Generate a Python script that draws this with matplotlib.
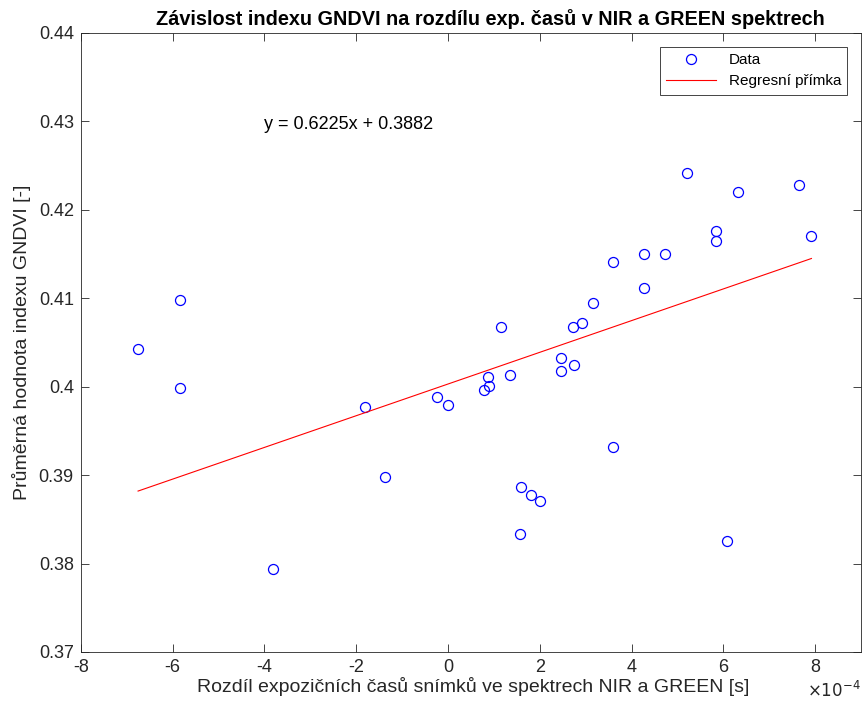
import numpy as np
import matplotlib
matplotlib.use('Agg')
import matplotlib.pyplot as plt
from matplotlib.ticker import MultipleLocator, FuncFormatter

# rozdil expozicnich casu NIR - GREEN (v jednotkach 1e-4 s) a prumerne GNDVI
dt_e4 = [-6.75, -5.83, -5.83, -3.82, -1.80, -1.36, -0.23, 0.00, 0.79, 0.88,
         0.90, 1.16, 1.35, 1.57, 1.59, 1.80, 2.00, 2.47, 2.47, 2.72,
         2.75, 2.93, 3.16, 3.60, 3.60, 4.28, 4.28, 4.73, 5.20, 5.84,
         5.84, 6.08, 6.31, 7.66, 7.92]
gndvi = [0.4043, 0.4098, 0.3999, 0.3794, 0.3977, 0.3898, 0.3988, 0.3979, 0.3996, 0.4011,
         0.4001, 0.4067, 0.4013, 0.3834, 0.3887, 0.3878, 0.3871, 0.4032, 0.4018, 0.4067,
         0.4025, 0.4072, 0.4095, 0.4141, 0.3932, 0.4150, 0.4112, 0.4150, 0.4242, 0.4176,
         0.4165, 0.3825, 0.4220, 0.4228, 0.4170]
# regresni primka - hodnoty na krajich rozsahu dat
reg_y = [0.3882, 0.4145]
eq_text = 'y = 0.6225x + 0.3882'

x = np.array(dt_e4) * 1e-4
y = np.array(gndvi)
xf = [x.min(), x.max()]

plt.rcParams['font.family'] = ['Liberation Sans', 'DejaVu Sans']
plt.rcParams['axes.unicode_minus'] = False
grey = (0.15, 0.15, 0.15)

W, H = 864, 707
fig = plt.figure(figsize=(W / 100, H / 100), dpi=100)
L, R, T, B = 80.7, 861.0, 33.0, 652.0
ax = fig.add_axes([L / W, 1 - B / H, (R - L) / W, (B - T) / H])

ax.plot(x, y, 'o', mfc='none', mec='b', ms=7.2, mew=0.9, label='Data')
ax.plot(xf, reg_y, '-', color='r', lw=0.8, label='Regresní přímka')

ax.set_xlim(-8e-4, 9e-4)
ax.set_ylim(0.37, 0.44)
ax.xaxis.set_major_locator(MultipleLocator(2e-4))
ax.yaxis.set_major_locator(MultipleLocator(0.01))
xfmt = FuncFormatter(lambda v, pos: '%g' % round(v * 1e4, 6))
xfmt.set_offset_string(r'$\times10^{-4}$')
ax.xaxis.set_major_formatter(xfmt)
ax.yaxis.set_major_formatter(FuncFormatter(lambda v, pos: '%g' % round(v, 4)))

ax.tick_params(direction='in', length=5.5, width=0.6, top=True, right=True,
               labelsize=13, colors=grey, pad=5)
ax.xaxis.get_offset_text().set_fontsize(12)
ax.xaxis.get_offset_text().set_color(grey)
for s in ax.spines.values():
    s.set_color(grey)
    s.set_linewidth(0.6)

ax.text(-4e-4, 0.4296, eq_text, fontsize=13, va='center', ha='left')

ax.set_xlabel('Rozdíl expozičních časů snímků ve spektrech NIR a GREEN [s]',
              fontsize=14, color=grey)
ax.xaxis.set_label_coords((473 - L) / (R - L), -(687 - B) / (B - T))
ax.xaxis.label.set_va('center')
ax.set_ylabel('Průměrná hodnota indexu GNDVI [-]', fontsize=14, color=grey)
ax.yaxis.set_label_coords((21 - L) / (R - L), 0.5)
ax.yaxis.label.set_va('center')

ax.set_title('Závislost indexu GNDVI na rozdílu exp. časů v NIR a GREEN spektrech',
             fontsize=14.3, fontweight='bold', x=(490 - L) / (R - L), pad=6)

leg = ax.legend(loc='upper right', fontsize=11, fancybox=False, framealpha=1,
                edgecolor=grey, borderaxespad=0.9, handlelength=3.3)
leg.get_frame().set_linewidth(0.6)

fig.savefig('out.png', dpi=100)
